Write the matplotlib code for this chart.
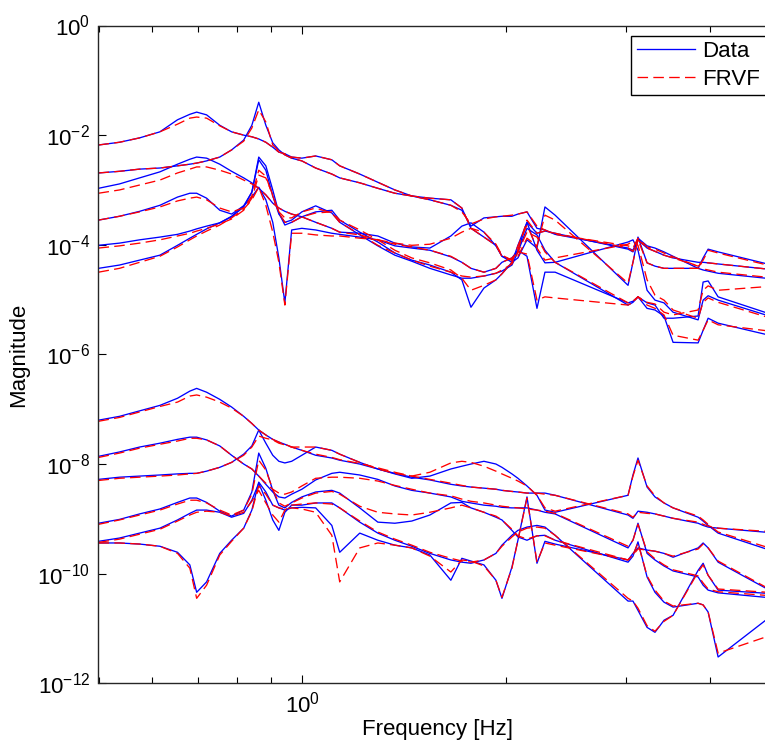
import numpy as np
import matplotlib
matplotlib.use("Agg")
import matplotlib.pyplot as plt
from matplotlib.ticker import NullLocator, FixedLocator, LogFormatterMathtext, NullFormatter

plt.rcParams['font.family'] = ['Liberation Sans', 'DejaVu Sans']
plt.rcParams['mathtext.fontset'] = 'custom'
plt.rcParams['mathtext.rm'] = 'Liberation Sans'
plt.rcParams['mathtext.it'] = 'Liberation Sans'
plt.rcParams['mathtext.bf'] = 'Liberation Sans'

# Frequency samples [Hz]
freq = [0.500, 0.537, 0.575, 0.616, 0.654, 0.682, 0.698, 0.722, 0.755, 0.786,
        0.819, 0.842, 0.862, 0.883, 0.904, 0.923, 0.942, 0.964, 0.998, 1.046,
        1.105, 1.135, 1.215, 1.292, 1.369, 1.450, 1.542, 1.656, 1.719, 1.773,
        1.853, 1.930, 1.970, 2.038, 2.080, 2.145, 2.219, 2.280, 2.360, 3.024,
        3.075, 3.128, 3.226, 3.314, 3.417, 3.524, 3.837, 3.903, 3.970, 4.107,
        5.005]

# Magnitudes, stored as log10(|H|)
data_t1 = [-2.18,-2.13,-2.05,-1.94,-1.72,-1.62,-1.58,-1.63,-1.82,-1.94,-2.00,-2.03,-2.07,-2.13,-2.22,-2.31,-2.34,-2.40,-2.42,-2.38,-2.45,-2.56,-2.71,-2.86,-3.00,-3.11,-3.15,-3.18,-3.33,-3.70,-3.86,-4.01,-4.21,-4.28,-4.10,-3.59,-3.79,-3.75,-3.79,-4.08,-4.13,-3.91,-4.06,-4.12,-4.19,-4.24,-4.32,-4.32,-4.33,-4.35,-4.46]
fit_t1 = [-2.18,-2.13,-2.05,-1.94,-1.80,-1.69,-1.67,-1.69,-1.83,-1.94,-2.00,-2.03,-2.07,-2.13,-2.22,-2.31,-2.34,-2.40,-2.42,-2.38,-2.45,-2.56,-2.71,-2.86,-3.00,-3.11,-3.15,-3.18,-3.33,-3.70,-3.86,-4.01,-4.21,-4.28,-4.10,-3.55,-3.79,-3.75,-3.79,-4.06,-4.12,-3.91,-4.06,-4.12,-4.19,-4.24,-4.39,-4.32,-4.33,-4.35,-4.46]

data_t2 = [-2.69,-2.66,-2.62,-2.60,-2.56,-2.53,-2.51,-2.47,-2.40,-2.27,-2.09,-1.82,-1.40,-1.82,-2.14,-2.27,-2.36,-2.42,-2.47,-2.60,-2.71,-2.78,-2.87,-2.97,-3.06,-3.11,-3.18,-3.28,-3.37,-3.66,-3.51,-3.49,-3.48,-3.48,-3.44,-3.40,-3.70,-3.73,-3.81,-4.06,-4.10,-3.88,-4.02,-4.06,-4.13,-4.21,-4.43,-4.24,-4.08,-4.13,-4.39]
fit_t2 = [-2.69,-2.66,-2.62,-2.60,-2.56,-2.53,-2.51,-2.47,-2.40,-2.27,-2.11,-1.87,-1.54,-1.76,-2.18,-2.29,-2.36,-2.42,-2.47,-2.60,-2.71,-2.78,-2.87,-2.97,-3.06,-3.11,-3.18,-3.28,-3.40,-3.62,-3.53,-3.49,-3.48,-3.46,-3.44,-3.40,-3.66,-3.73,-3.81,-4.02,-4.06,-3.88,-4.04,-4.08,-4.15,-4.22,-4.39,-4.28,-4.10,-4.15,-4.41]

data_t3 = [-2.97,-2.89,-2.78,-2.67,-2.53,-2.44,-2.40,-2.42,-2.53,-2.66,-2.78,-2.87,-2.97,-3.09,-3.24,-3.33,-3.39,-3.44,-3.49,-3.59,-3.70,-3.77,-3.79,-3.84,-3.97,-4.04,-4.06,-3.84,-3.66,-3.60,-3.77,-4.02,-4.21,-4.32,-4.24,-3.91,-4.06,-3.31,-3.46,-4.74,-4.32,-3.86,-4.33,-4.39,-4.43,-4.43,-4.43,-4.46,-4.48,-4.52,-4.63]
fit_t3 = [-3.06,-3.00,-2.91,-2.82,-2.69,-2.62,-2.58,-2.58,-2.64,-2.71,-2.82,-2.89,-2.97,-3.09,-3.24,-3.33,-3.39,-3.44,-3.49,-3.59,-3.70,-3.77,-3.82,-3.91,-3.97,-4.01,-3.99,-3.88,-3.77,-3.70,-3.77,-3.99,-4.19,-4.28,-4.21,-3.88,-4.02,-3.46,-3.55,-4.70,-4.32,-3.91,-4.33,-4.39,-4.43,-4.43,-4.43,-4.44,-4.46,-4.50,-4.61]

data_t4 = [-3.55,-3.48,-3.39,-3.28,-3.13,-3.06,-3.06,-3.15,-3.37,-3.44,-3.29,-3.04,-2.45,-2.64,-3.11,-3.44,-3.59,-3.55,-3.40,-3.29,-3.42,-3.59,-3.82,-4.02,-4.19,-4.30,-4.43,-4.55,-4.61,-4.61,-4.57,-4.52,-4.48,-4.37,-4.13,-3.70,-3.82,-4.10,-4.32,-5.10,-5.05,-4.95,-5.06,-5.10,-5.34,-5.34,-5.30,-4.68,-4.66,-4.95,-5.30]
fit_t4 = [-3.55,-3.48,-3.40,-3.31,-3.20,-3.15,-3.13,-3.18,-3.33,-3.40,-3.33,-3.11,-2.64,-2.75,-3.11,-3.40,-3.51,-3.51,-3.40,-3.33,-3.42,-3.59,-3.81,-4.01,-4.15,-4.28,-4.39,-4.50,-4.57,-4.59,-4.57,-4.52,-4.46,-4.35,-4.13,-3.77,-3.86,-4.13,-4.32,-5.06,-5.03,-4.95,-5.05,-5.08,-5.23,-5.28,-5.19,-4.83,-4.75,-4.83,-4.75]

data_t5 = [-4.01,-3.97,-3.91,-3.86,-3.81,-3.75,-3.71,-3.66,-3.60,-3.49,-3.31,-3.04,-2.40,-2.56,-3.00,-3.42,-3.64,-3.59,-3.49,-3.40,-3.37,-3.55,-3.77,-3.95,-4.15,-4.28,-4.37,-4.50,-4.64,-5.14,-4.79,-4.64,-4.53,-4.32,-4.01,-3.59,-4.10,-4.33,-4.32,-3.95,-3.91,-4.10,-4.83,-5.01,-5.06,-5.23,-5.37,-5.01,-4.93,-5.01,-5.34]
fit_t5 = [-4.06,-4.02,-3.97,-3.91,-3.84,-3.79,-3.75,-3.70,-3.62,-3.53,-3.37,-3.15,-2.73,-2.78,-3.09,-3.42,-3.59,-3.59,-3.49,-3.42,-3.40,-3.55,-3.73,-3.91,-4.10,-4.24,-4.33,-4.46,-4.61,-4.83,-4.74,-4.64,-4.53,-4.32,-4.02,-3.64,-4.06,-4.28,-4.24,-3.99,-3.93,-4.01,-4.64,-4.92,-5.01,-5.19,-5.34,-5.05,-4.97,-5.05,-5.37]

data_t6 = [-4.43,-4.37,-4.28,-4.19,-4.01,-3.88,-3.81,-3.71,-3.60,-3.48,-3.29,-3.13,-2.95,-3.18,-3.59,-4.24,-5.06,-3.73,-3.70,-3.73,-3.79,-3.81,-3.86,-3.91,-4.02,-4.06,-4.10,-4.22,-4.32,-4.43,-4.50,-4.43,-4.32,-4.24,-4.10,-4.21,-5.16,-4.50,-4.50,-5.06,-5.03,-4.95,-5.16,-5.19,-5.30,-5.78,-5.79,-5.56,-5.34,-5.43,-5.68]
fit_t6 = [-4.50,-4.43,-4.32,-4.21,-4.04,-3.91,-3.84,-3.75,-3.64,-3.51,-3.35,-3.18,-2.95,-3.28,-3.77,-4.32,-5.10,-3.79,-3.79,-3.82,-3.84,-3.84,-3.88,-3.91,-3.99,-4.04,-4.10,-4.21,-4.32,-4.43,-4.50,-4.43,-4.32,-4.24,-4.13,-4.17,-5.01,-4.95,-4.97,-5.10,-5.05,-4.95,-5.10,-5.16,-5.28,-5.65,-5.74,-5.56,-5.37,-5.46,-5.59]

data_b1 = [-7.20,-7.13,-7.03,-6.93,-6.80,-6.67,-6.62,-6.69,-6.82,-6.96,-7.13,-7.26,-7.38,-7.47,-7.55,-7.60,-7.64,-7.69,-7.75,-7.84,-7.89,-7.93,-8.00,-8.09,-8.17,-8.24,-8.29,-8.37,-8.40,-8.42,-8.44,-8.46,-8.48,-8.50,-8.51,-8.53,-8.53,-8.53,-8.57,-8.93,-8.99,-8.86,-8.88,-8.91,-8.95,-8.99,-9.08,-9.12,-9.15,-9.17,-9.26]
fit_b1 = [-7.22,-7.15,-7.05,-6.95,-6.87,-6.76,-6.74,-6.78,-6.87,-6.98,-7.13,-7.26,-7.38,-7.47,-7.55,-7.60,-7.64,-7.69,-7.75,-7.82,-7.88,-7.92,-7.99,-8.07,-8.15,-8.22,-8.28,-8.35,-8.39,-8.42,-8.44,-8.46,-8.48,-8.50,-8.51,-8.53,-8.53,-8.55,-8.57,-8.91,-8.97,-8.88,-8.90,-8.91,-8.95,-8.99,-9.06,-9.10,-9.13,-9.17,-9.24]

data_b2 = [-7.86,-7.78,-7.69,-7.62,-7.55,-7.51,-7.51,-7.56,-7.67,-7.84,-8.00,-8.09,-8.22,-8.37,-8.51,-8.60,-8.62,-8.55,-8.46,-8.29,-8.17,-8.15,-8.20,-8.28,-8.40,-8.48,-8.53,-8.60,-8.68,-8.71,-8.75,-8.77,-8.79,-8.80,-8.80,-8.80,-8.84,-8.88,-8.91,-9.53,-9.39,-9.08,-9.63,-9.75,-9.86,-9.95,-10.06,-10.21,-10.30,-10.35,-10.45]
fit_b2 = [-7.88,-7.80,-7.71,-7.64,-7.58,-7.53,-7.53,-7.56,-7.67,-7.84,-8.00,-8.09,-8.22,-8.35,-8.46,-8.53,-8.55,-8.51,-8.40,-8.26,-8.24,-8.24,-8.26,-8.31,-8.39,-8.46,-8.53,-8.58,-8.64,-8.68,-8.71,-8.75,-8.77,-8.79,-8.80,-8.82,-8.84,-8.86,-8.90,-9.50,-9.39,-9.10,-9.60,-9.73,-9.84,-9.93,-10.04,-10.17,-10.28,-10.33,-10.41]

data_b3 = [-8.28,-8.24,-8.22,-8.20,-8.18,-8.17,-8.17,-8.13,-8.06,-7.97,-7.82,-7.67,-7.38,-7.62,-7.84,-7.95,-7.98,-7.95,-7.84,-7.69,-7.75,-7.82,-7.97,-8.09,-8.18,-8.26,-8.22,-8.09,-8.04,-8.00,-7.95,-8.00,-8.06,-8.18,-8.26,-8.40,-8.57,-8.84,-8.88,-8.57,-8.20,-7.89,-8.42,-8.60,-8.71,-8.80,-8.97,-9.04,-9.12,-9.26,-9.61]
fit_b3 = [-8.30,-8.26,-8.24,-8.22,-8.20,-8.18,-8.17,-8.13,-8.06,-7.97,-7.84,-7.69,-7.49,-7.53,-7.56,-7.62,-7.65,-7.69,-7.69,-7.69,-7.75,-7.82,-7.97,-8.09,-8.17,-8.22,-8.15,-7.98,-7.95,-7.97,-8.04,-8.13,-8.18,-8.26,-8.31,-8.40,-8.57,-8.80,-8.86,-8.57,-8.22,-7.93,-8.40,-8.58,-8.71,-8.80,-8.95,-9.02,-9.10,-9.24,-9.57]

data_b4 = [-9.08,-9.01,-8.91,-8.82,-8.70,-8.62,-8.62,-8.70,-8.86,-8.95,-8.84,-8.51,-7.80,-8.08,-8.48,-8.75,-8.80,-8.70,-8.60,-8.51,-8.48,-8.53,-8.80,-9.06,-9.08,-9.04,-8.93,-8.71,-8.70,-8.80,-8.88,-8.97,-9.02,-9.21,-9.33,-9.39,-9.31,-9.30,-9.39,-9.79,-9.68,-9.42,-10.06,-10.34,-10.52,-10.61,-10.54,-10.57,-10.70,-11.52,-10.70]
fit_b4 = [-9.10,-9.02,-8.93,-8.84,-8.73,-8.66,-8.66,-8.71,-8.84,-8.93,-8.84,-8.55,-7.93,-8.11,-8.46,-8.71,-8.77,-8.71,-8.62,-8.53,-8.50,-8.55,-8.77,-8.88,-8.91,-8.93,-8.88,-8.80,-8.75,-8.80,-8.88,-8.95,-9.02,-9.19,-9.31,-9.37,-9.31,-9.31,-9.39,-9.75,-9.66,-9.44,-10.04,-10.30,-10.50,-10.59,-10.54,-10.57,-10.70,-11.45,-11.09]

data_b5 = [-9.41,-9.35,-9.26,-9.17,-9.02,-8.90,-8.84,-8.84,-8.88,-8.97,-8.90,-8.66,-8.35,-8.66,-9.02,-9.21,-8.88,-8.75,-8.75,-8.71,-8.71,-8.80,-9.06,-9.26,-9.39,-9.50,-9.63,-9.75,-9.79,-9.81,-9.75,-9.63,-9.48,-9.30,-9.21,-9.15,-9.12,-9.15,-9.30,-10.50,-10.50,-10.67,-10.98,-11.07,-10.85,-10.76,-9.94,-9.81,-10.03,-10.30,-10.37]
fit_b5 = [-9.43,-9.37,-9.28,-9.19,-9.04,-8.93,-8.88,-8.86,-8.88,-8.95,-8.88,-8.68,-8.48,-8.71,-8.93,-9.06,-8.84,-8.75,-8.73,-8.71,-8.73,-8.80,-9.04,-9.24,-9.37,-9.48,-9.61,-9.72,-9.77,-9.79,-9.75,-9.63,-9.50,-9.33,-9.24,-9.17,-9.15,-9.17,-9.30,-10.45,-10.50,-10.63,-10.95,-11.05,-10.87,-10.76,-9.97,-9.84,-10.03,-10.28,-10.35]

data_b6 = [-9.44,-9.44,-9.46,-9.50,-9.61,-9.84,-10.34,-10.15,-9.63,-9.39,-9.17,-8.84,-8.33,-8.51,-8.75,-8.80,-8.84,-8.80,-8.79,-8.80,-9.12,-9.61,-9.26,-9.39,-9.48,-9.53,-9.66,-10.12,-9.72,-9.77,-9.84,-10.12,-10.45,-9.88,-9.39,-8.60,-9.81,-9.41,-9.46,-9.75,-9.63,-9.53,-9.57,-9.59,-9.63,-9.70,-9.53,-9.44,-9.53,-9.79,-10.37]
fit_b6 = [-9.44,-9.44,-9.46,-9.50,-9.63,-9.90,-10.45,-10.21,-9.66,-9.41,-9.17,-8.86,-8.40,-8.55,-8.75,-8.80,-8.82,-8.80,-8.82,-8.88,-9.30,-10.15,-9.53,-9.44,-9.48,-9.53,-9.68,-9.97,-9.75,-9.77,-9.86,-10.12,-10.43,-9.90,-9.39,-8.62,-9.79,-9.44,-9.48,-9.75,-9.66,-9.55,-9.57,-9.59,-9.63,-9.68,-9.55,-9.46,-9.53,-9.77,-10.35]

data_curves = [data_t1, data_t2, data_t3, data_t4, data_t5, data_t6,
               data_b1, data_b2, data_b3, data_b4, data_b5, data_b6]
fit_curves = [fit_t1, fit_t2, fit_t3, fit_t4, fit_t5, fit_t6,
              fit_b1, fit_b2, fit_b3, fit_b4, fit_b5, fit_b6]

W, H = 765, 744
fig = plt.figure(figsize=(W / 100, H / 100), dpi=100)
ax_left, ax_right, ax_top, ax_bottom = 98.5, 776.0, 25.5, 683.3
ax = fig.add_axes([ax_left / W, (H - ax_bottom) / H,
                   (ax_right - ax_left) / W, (ax_bottom - ax_top) / H])

f = np.array(freq)
h_data = h_fit = None
for d in data_curves:
    (h_data,) = ax.plot(f, 10.0 ** np.array(d), color='#0000FF', lw=0.95)
for d in fit_curves:
    (h_fit,) = ax.plot(f, 10.0 ** np.array(d), color='#FF0000', lw=0.95, ls=(0, (8, 4)))

ax.set_xscale('log')
ax.set_yscale('log')
ax.set_xlim(0.5, 5)
ax.set_ylim(1e-12, 1)

ax.yaxis.set_major_locator(FixedLocator([10.0 ** k for k in range(-12, 1, 2)]))
ax.yaxis.set_major_formatter(LogFormatterMathtext())
ax.yaxis.set_minor_locator(NullLocator())
ax.xaxis.set_major_locator(FixedLocator([1.0]))
ax.xaxis.set_major_formatter(LogFormatterMathtext())
ax.xaxis.set_minor_locator(FixedLocator([0.5, 0.6, 0.7, 0.8, 0.9, 2, 3, 4, 5]))
ax.xaxis.set_minor_formatter(NullFormatter())

ax.tick_params(which='both', direction='in', top=True, right=True, labelsize=16, width=0.8)
ax.tick_params(which='major', length=6, pad=6)
ax.tick_params(which='minor', length=4)
for s in ax.spines.values():
    s.set_linewidth(1.0)
    s.set_color('#262626')

ax.set_xlabel('Frequency [Hz]', fontsize=16, labelpad=1)
ax.set_ylabel('Magnitude', fontsize=16, labelpad=6)

leg = ax.legend([h_data, h_fit], ['Data', 'FRVF'], loc='upper right', fontsize=16,
                frameon=True, fancybox=False, framealpha=1, edgecolor='black',
                handlelength=2.6, handletextpad=0.35, labelspacing=0.3,
                borderpad=0.25, borderaxespad=0.45)
leg.get_frame().set_linewidth(1.0)

fig.savefig('out.png', dpi=100)
